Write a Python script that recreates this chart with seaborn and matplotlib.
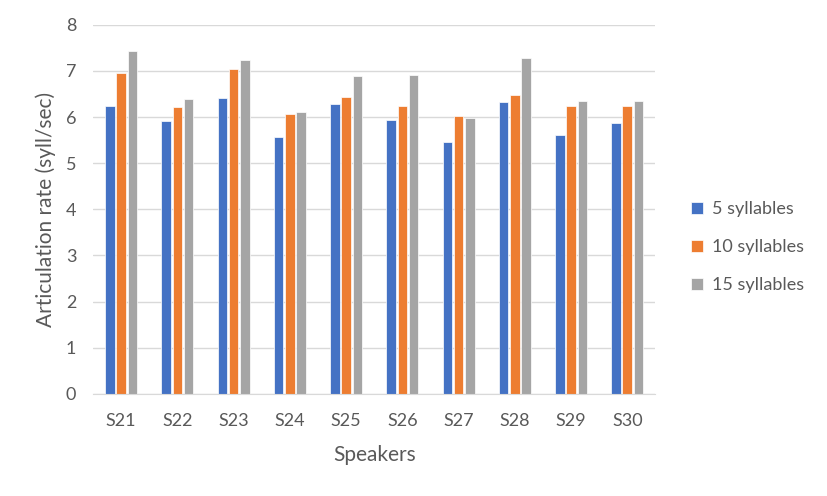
import matplotlib
matplotlib.use("Agg")
import matplotlib.pyplot as plt
import seaborn as sns
import pandas as pd

speakers = ["S21", "S22", "S23", "S24", "S25", "S26", "S27", "S28", "S29", "S30"]
series_names = ["5 syllables", "10 syllables", "15 syllables"]
syll5 = [6.23, 5.92, 6.42, 5.56, 6.28, 5.94, 5.46, 6.33, 5.61, 5.87]
syll10 = [6.95, 6.21, 7.04, 6.06, 6.44, 6.23, 6.02, 6.47, 6.25, 6.25]
syll15 = [7.44, 6.39, 7.24, 6.11, 6.90, 6.92, 5.97, 7.28, 6.35, 6.35]
colors = ["#4472C4", "#ED7D31", "#A5A5A5"]

rows = []
for name, vals in zip(series_names, [syll5, syll10, syll15]):
    for s, v in zip(speakers, vals):
        rows.append({"Speaker": s, "Series": name, "Value": v})
df = pd.DataFrame(rows)

sns.set_style("white")
plt.rcParams['font.family'] = ['Lato', 'DejaVu Sans']

fig = plt.figure(figsize=(8.27, 4.96), dpi=100)
ax = fig.add_axes([0.1125, 0.206, 0.68, 0.744])
sns.barplot(data=df, x="Speaker", y="Value", hue="Series", palette=colors,
            width=0.6, gap=0.15, ax=ax, legend=True, saturation=1,
            edgecolor="white", linewidth=0.5)

ax.set_ylim(0, 8)
ax.set_xlim(-0.5, 9.5)
ax.set_yticks(range(0, 9))
ax.yaxis.grid(True, color="#D9D9D9", linewidth=1)
ax.set_axisbelow(True)
for side in ["top", "right", "left"]:
    ax.spines[side].set_visible(False)
ax.spines["bottom"].set_color("#D9D9D9")
ax.tick_params(axis="both", length=0, labelsize=13, labelcolor="#595959")
ax.tick_params(axis="x", pad=14)
ax.tick_params(axis="y", pad=12)
ax.set_xlabel("Speakers", fontsize=15, color="#595959", labelpad=11)
ax.set_ylabel("Articulation rate (syll/sec)", fontsize=15, color="#595959", labelpad=7)

handles, labels = ax.get_legend_handles_labels()
ax.legend(handles, labels, loc="center left", bbox_to_anchor=(1.035, 0.398),
          frameon=False, fontsize=13, labelcolor="#595959",
          handlelength=0.65, handleheight=0.65, handletextpad=0.5, labelspacing=1.22)

fig.savefig("out.png", dpi=100)
